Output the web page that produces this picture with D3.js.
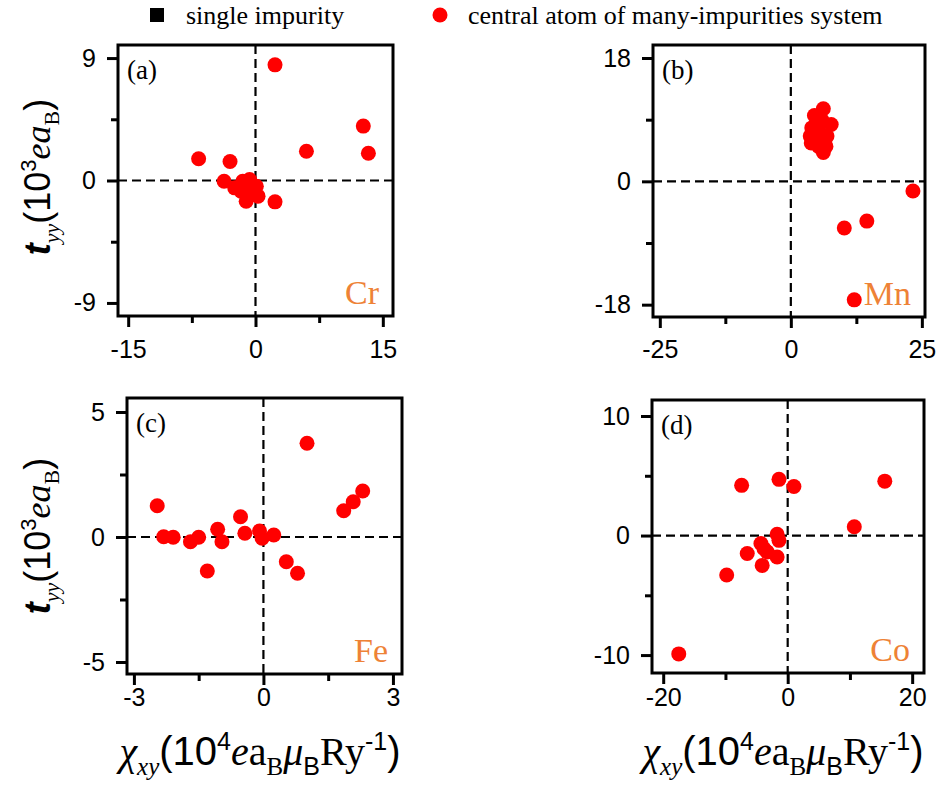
<!DOCTYPE html>
<html>
<head>
<meta charset="utf-8">
<script src="https://cdn.jsdelivr.net/npm/d3@7"></script>
<style>
  body { margin: 0; background: #fff; }
  svg { display: block; }
</style>
</head>
<body>
<div id="chart"></div>
<script>
// data
const crX = [2.3, 12.7, 13.3, 6.0, -6.7, -3.0, -3.7, 2.3, -2.45, -1.5, -0.7, 0.1, 0.3, -1.1, -1.7, -0.5];
const crY = [8.5, 4.0, 2.0, 2.15, 1.6, 1.4, -0.05, -1.57, -0.54, -0.05, 0.07, -0.42, -1.15, -1.52, -0.78, -0.9];

const mnX = [23.3, 14.5, 10.2, 12.1, 6.2, 4.5, 7.7, 4.0, 3.7, 3.9, 5.6, 6.7, 6.2, 5.3, 6.9, 5.3, 5.9];
const mnY = [-1.4, -5.8, -6.8, -17.3, 10.6, 9.6, 8.3, 7.8, 6.6, 5.6, 6.1, 5.1, 4.2, 5.1, 6.6, 7.6, 9.0];

const feX = [1.01, 2.30, 2.08, 1.86, -2.46, -2.31, -2.09, -1.69, -1.50, -1.06, -0.96, -1.30, -0.53, -0.43, -0.09, -0.03, 0.24, 0.53, 0.79];
const feY = [3.75, 1.84, 1.41, 1.05, 1.25, 0.01, -0.01, -0.19, -0.01, 0.31, -0.19, -1.36, 0.81, 0.15, 0.24, -0.05, 0.08, -0.99, -1.45];

const coX = [-17.5, -9.8, -7.4, -1.4, 1.0, 15.6, 10.7, -6.5, -1.7, -1.4, -4.3, -3.3, -1.7, -4.1, -3.8];
const coY = [-9.9, -3.3, 4.2, 4.7, 4.1, 4.55, 0.73, -1.5, 0.11, -0.4, -0.67, -1.37, -1.8, -2.5, -1.1];

const crXTicks = [-15, 0, 15], crXMinor = [-7.5, 7.5];
const crYTicks = [-9, 0, 9], crYMinor = [-4.5, 4.5];
const mnXTicks = [-25, 0, 25], mnXMinor = [-12.5, 12.5];
const mnYTicks = [-18, 0, 18], mnYMinor = [-9, 9];
const feXTicks = [-3, 0, 3], feXMinor = [-1.5, 1.5];
const feYTicks = [-5, 0, 5], feYMinor = [-2.5, 2.5];
const coXTicks = [-20, 0, 20], coXMinor = [-10, 10];
const coYTicks = [-10, 0, 10], coYMinor = [-5, 5];

const elements = ["Cr", "Mn", "Fe", "Co"];
const panelLetters = ["(a)", "(b)", "(c)", "(d)"];
const legendLabels = ["single impurity", "central atom of many-impurities system"];

const serif = "'Liberation Serif', 'Times New Roman', serif";
const sans = "'Liberation Sans', Arial, sans-serif";
const orange = "#ee8236";

const width = 939, height = 793;

const svg = d3.select("#chart")
    .append("svg")
    .attr("width", width)
    .attr("height", height)

// panel boxes (pixels) and axis ranges
const panels = [
    {xs: crX, ys: crY, xTicks: crXTicks, xMinor: crXMinor, yTicks: crYTicks, yMinor: crYMinor,
     xDomain: [-16.2, 16.2], yDomain: [-9.96, 9.96], left: 118, right: 393, top: 45, bottom: 316, xLabelY: 358},
    {xs: mnX, ys: mnY, xTicks: mnXTicks, xMinor: mnXMinor, yTicks: mnYTicks, yMinor: mnYMinor,
     xDomain: [-26.3, 25.6], yDomain: [-19.8, 19.9], left: 653, right: 925, top: 45, bottom: 317, xLabelY: 358},
    {xs: feX, ys: feY, xTicks: feXTicks, xMinor: feXMinor, yTicks: feYTicks, yMinor: feYMinor,
     xDomain: [-3.16, 3.21], yDomain: [-5.48, 5.56], left: 127, right: 402, top: 398, bottom: 674, xLabelY: 706},
    {xs: coX, ys: coY, xTicks: coXTicks, xMinor: coXMinor, yTicks: coYTicks, yMinor: coYMinor,
     xDomain: [-21.8, 21.9], yDomain: [-11.5, 11.34], left: 652, right: 924, top: 400, bottom: 673, xLabelY: 706},
]

panels.forEach((p, i) => {
    const x = d3.scaleLinear().domain(p.xDomain).range([p.left, p.right]);
    const y = d3.scaleLinear().domain(p.yDomain).range([p.bottom, p.top]);
    const g = svg.append("g");

    // dashed zero lines
    g.append("line")
        .attr("x1", x(0)).attr("x2", x(0))
        .attr("y1", p.top).attr("y2", p.bottom)
        .attr("stroke", "black").attr("stroke-width", 2.2)
        .attr("stroke-dasharray", "9,5")
    g.append("line")
        .attr("x1", p.left).attr("x2", p.right)
        .attr("y1", y(0)).attr("y2", y(0))
        .attr("stroke", "black").attr("stroke-width", 2.2)
        .attr("stroke-dasharray", "9,5")

    // points
    g.append("g")
        .selectAll("circle")
        .data(d3.zip(p.xs, p.ys))
        .join("circle")
        .attr("cx", d => x(d[0]))
        .attr("cy", d => y(d[1]))
        .attr("r", 7.5)
        .attr("fill", "#ff0000")

    // frame
    g.append("rect")
        .attr("x", p.left).attr("y", p.top)
        .attr("width", p.right - p.left).attr("height", p.bottom - p.top)
        .attr("fill", "none").attr("stroke", "black").attr("stroke-width", 3)

    // axes
    const xAxis = g.append("g")
        .attr("transform", `translate(0,${p.bottom})`)
        .call(d3.axisBottom(x).tickValues(p.xTicks).tickSize(11).tickFormat(d => String(d)))
    xAxis.select(".domain").remove()
    xAxis.selectAll("line").attr("stroke-width", 3)
    xAxis.selectAll("text")
        .attr("y", p.xLabelY - p.bottom).attr("dy", 0)
        .attr("font-family", sans).attr("font-size", 25)

    const xMinor = g.append("g")
        .attr("transform", `translate(0,${p.bottom})`)
        .call(d3.axisBottom(x).tickValues(p.xMinor).tickSize(7).tickFormat(""))
    xMinor.select(".domain").remove()
    xMinor.selectAll("line").attr("stroke-width", 3)

    const yAxis = g.append("g")
        .attr("transform", `translate(${p.left},0)`)
        .call(d3.axisLeft(y).tickValues(p.yTicks).tickSize(11).tickPadding(11).tickFormat(d => String(d)))
    yAxis.select(".domain").remove()
    yAxis.selectAll("line").attr("stroke-width", 3)
    yAxis.selectAll("text")
        .attr("font-family", sans).attr("font-size", 25)

    const yMinor = g.append("g")
        .attr("transform", `translate(${p.left},0)`)
        .call(d3.axisLeft(y).tickValues(p.yMinor).tickSize(7).tickFormat(""))
    yMinor.select(".domain").remove()
    yMinor.selectAll("line").attr("stroke-width", 3)

    // panel letter and element name
    g.append("text")
        .attr("x", p.left + 9).attr("y", p.top + 34)
        .attr("font-family", serif).attr("font-size", 27)
        .text(panelLetters[i])
    g.append("text")
        .attr("x", p.right - 14).attr("y", p.bottom - 12)
        .attr("text-anchor", "end")
        .attr("font-family", serif).attr("font-size", 34)
        .attr("fill", orange)
        .text(elements[i])
})

// y axis titles
function yTitle(cy) {
    const t = svg.append("text")
        .attr("transform", `translate(50,${cy}) rotate(-90)`)
        .attr("text-anchor", "middle")
        .attr("font-size", 36)
    t.append("tspan").attr("font-family", sans).attr("font-style", "italic").attr("font-weight", "bold").text("t")
    t.append("tspan").attr("font-family", serif).attr("font-style", "italic").attr("font-size", 22).attr("dy", 9).text("yy")
    t.append("tspan").attr("font-family", sans).attr("dy", -9).text("(10")
    t.append("tspan").attr("font-family", sans).attr("font-size", 22).attr("dy", -14).text("3")
    t.append("tspan").attr("font-family", serif).attr("font-style", "italic").attr("dy", 14).text("ea")
    t.append("tspan").attr("font-family", serif).attr("font-size", 22).attr("dy", 9).text("B")
    t.append("tspan").attr("font-family", sans).attr("dy", -9).text(")")
}
yTitle(177)
yTitle(536)

// x axis titles
function xTitle(cx) {
    const t = svg.append("text")
        .attr("x", cx).attr("y", 765)
        .attr("text-anchor", "middle")
        .attr("font-size", 40)
    t.append("tspan").attr("font-family", serif).attr("font-style", "italic").text("\u03c7")
    t.append("tspan").attr("font-family", serif).attr("font-style", "italic").attr("font-size", 25).attr("dy", 10).text("xy")
    t.append("tspan").attr("font-family", sans).attr("dy", -10).text("(10")
    t.append("tspan").attr("font-family", sans).attr("font-size", 25).attr("dy", -15).text("4")
    t.append("tspan").attr("font-family", serif).attr("font-style", "italic").attr("dy", 15).text("e")
    t.append("tspan").attr("font-family", serif).text("a")
    t.append("tspan").attr("font-family", serif).attr("font-size", 25).attr("dy", 10).text("B")
    t.append("tspan").attr("font-family", serif).attr("font-style", "italic").attr("dy", -10).text("\u03bc")
    t.append("tspan").attr("font-family", sans).attr("font-size", 25).attr("dy", 10).text("B")
    t.append("tspan").attr("font-family", serif).attr("dy", -10).text("Ry")
    t.append("tspan").attr("font-family", sans).attr("font-size", 25).attr("dy", -15).text("-1")
    t.append("tspan").attr("font-family", sans).attr("dy", 15).text(")")
}
xTitle(260)
xTitle(783)

// legend
const legend = svg.append("g")
legend.append("rect")
    .attr("x", 150).attr("y", 8).attr("width", 14).attr("height", 14)
    .attr("fill", "black")
legend.append("text")
    .attr("x", 186).attr("y", 23.5)
    .attr("font-family", serif).attr("font-size", 26)
    .text(legendLabels[0])
legend.append("circle")
    .attr("cx", 440).attr("cy", 15).attr("r", 7.5)
    .attr("fill", "#ff0000")
legend.append("text")
    .attr("x", 468).attr("y", 23.5)
    .attr("font-family", serif).attr("font-size", 26)
    .text(legendLabels[1])
</script>
</body>
</html>
